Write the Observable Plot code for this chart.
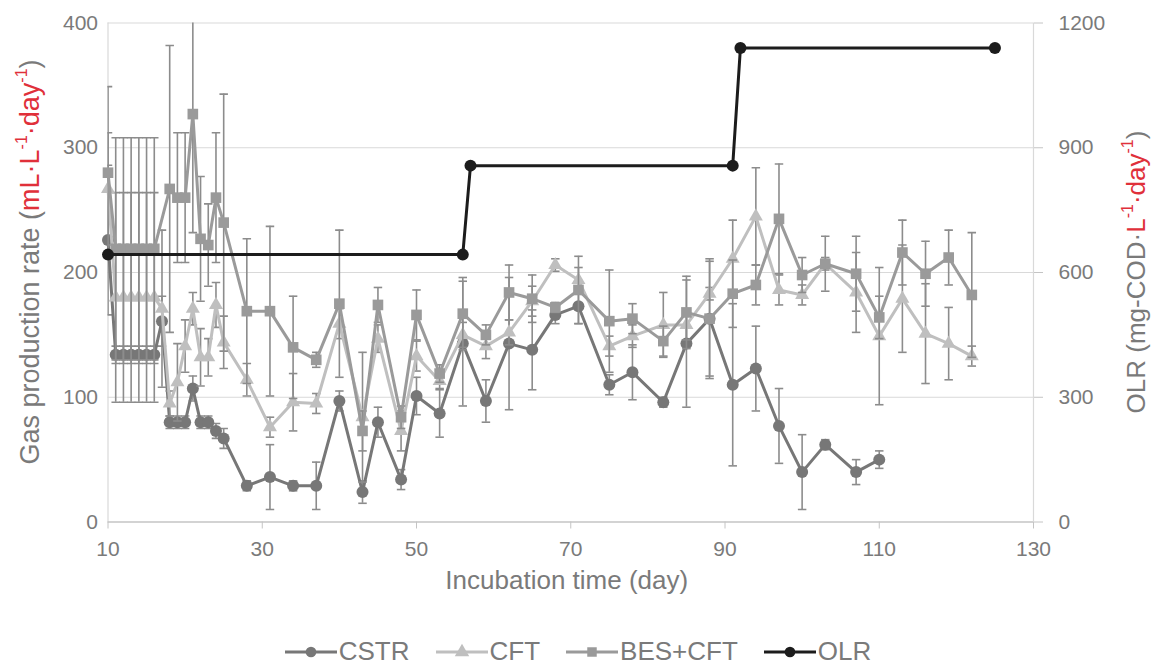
<!DOCTYPE html>
<html><head><meta charset="utf-8">
<script src="https://cdn.jsdelivr.net/npm/d3@7"></script>
<script src="https://cdn.jsdelivr.net/npm/@observablehq/plot@0.6"></script>
<style>
body{margin:0;background:#fff;font-family:"Liberation Sans",Arial,sans-serif;}
#legend{display:flex;justify-content:center;align-items:center;gap:26px;height:35px;font-size:26px;color:#7a7a7a;padding-top:4px;}
.item{display:flex;align-items:center;}
.item svg{margin-right:2px;}
</style></head><body><div id="chart"></div><div id="legend"></div>
<script>
// ---- data ----
const xTicks = [10,30,50,70,90,110,130];
const yTicks = [0,100,200,300,400];
const olrTicks = [0,300,600,900,1200];

const cstrDays = [10,11,12,13,14,15,16,17,18,19,20,21,22,23,24,25,28,31,34,37,40,43,45,48,50,53,56,59,62,65,68,71,75,78,82,85,88,91,94,97,100,103,107,110];
const cstrValues = [226,134,134,134,134,134,134,161,80,80,80,107,80,80,73,67,29,36,29,29,97,24,80,34,101,87,143,97,143,138,166,173,110,120,96,143,163,110,123,77,40,62,40,50];
const cstrErrors = [60,7,7,7,7,7,7,20,5,5,5,10,5,5,6,8,4,26,4,19,8,9,12,8,15,19,50,17,53,32,7,14,8,22,4,51,46,65,34,30,30,4,10,7];

const cftDays = [10,11,12,13,14,15,16,17,18,19,20,21,22,23,24,25,28,31,34,37,40,43,45,48,50,53,56,59,62,65,68,71,75,78,82,85,88,91,94,97,100,103,107,110,113,116,119,122];
const cftValues = [267,180,180,180,180,180,180,171,95,112,141,171,132,132,174,144,114,76,96,95,159,84,147,73,133,113,150,141,152,177,206,194,141,149,158,158,183,211,245,186,182,207,184,149,179,151,143,133];
const cftErrors = [45,84,84,84,84,84,84,63,10,31,21,13,23,15,18,21,13,8,23,8,12,52,11,16,12,6,10,10,10,12,5,10,8,9,26,12,5,31,39,12,8,5,32,55,43,40,29,8];

const besDays = [10,11,12,13,14,15,16,18,19,20,21,22,23,24,25,28,31,34,37,40,43,45,48,50,53,56,59,62,65,68,71,75,78,82,85,88,91,94,97,100,103,107,110,113,116,119,122];
const besValues = [280,219,219,219,219,219,219,267,260,260,327,227,222,260,240,169,169,140,130,175,73,174,84,166,119,167,150,184,179,172,186,161,163,145,168,163,183,190,243,198,207,199,164,216,199,212,182];
const besErrors = [69,89,89,89,89,89,89,115,52,52,95,50,33,52,103,58,68,41,6,59,16,14,9,20,7,29,8,22,19,4,27,41,12,12,29,48,27,16,44,14,22,30,17,26,26,22,50];

const olrDays = [10,56,57,91,92,125];
const olrValues = [643,643,857,857,1140,1140];

// ---- styles ----
const gray = "#7a7a7a", red = "#e0303a", errColor = "#8c8c8c", capHalf = 0.55;
const ratio = olrTicks[olrTicks.length-1] / yTicks[yTicks.length-1];
const seriesList = [
  {name:"CSTR", days:cstrDays, values:cstrValues, errors:cstrErrors, color:"#777777", symbol:"circle", r:6},
  {name:"CFT", days:cftDays, values:cftValues, errors:cftErrors, color:"#bfbfbf", symbol:"triangle", r:5.2},
  {name:"BES+CFT", days:besDays, values:besValues, errors:besErrors, color:"#9a9a9a", symbol:"square", r:6}
];
const olrStyle = {name:"OLR", color:"#1c1c1c", symbol:"circle", r:6};

const marks = [
  Plot.ruleY(yTicks.filter(v => v > 0), {stroke:"#d9d9d9", strokeWidth:1.2}),
  Plot.ruleX(d3.extent(xTicks), {stroke:"#d9d9d9", strokeWidth:1.2}),
  Plot.ruleY([0], {stroke:"#c4c4c4", strokeWidth:1.5})
];
for (const s of seriesList) {
  const data = s.days.map((d,i) => ({day:d, v:s.values[i], e:s.errors[i]}));
  marks.push(Plot.ruleX(data, {x:"day", y1:d => d.v - d.e, y2:d => d.v + d.e, stroke:errColor, strokeWidth:1.6, clip:true}));
  marks.push(Plot.link(data, {x1:d => d.day - capHalf, x2:d => d.day + capHalf, y1:d => d.v + d.e, y2:d => d.v + d.e, stroke:errColor, strokeWidth:1.6, clip:true}));
  marks.push(Plot.link(data, {x1:d => d.day - capHalf, x2:d => d.day + capHalf, y1:d => d.v - d.e, y2:d => d.v - d.e, stroke:errColor, strokeWidth:1.6, clip:true}));
  marks.push(Plot.line(data, {x:"day", y:"v", stroke:s.color, strokeWidth:3}));
  marks.push(Plot.dot(data, {x:"day", y:"v", fill:s.color, stroke:"none", symbol:s.symbol, r:s.r}));
}
const olr = olrDays.map((d,i) => ({day:d, v:olrValues[i]}));
marks.push(Plot.line(olr, {x:"day", y:d => d.v / ratio, stroke:olrStyle.color, strokeWidth:3}));
marks.push(Plot.dot(olr, {x:"day", y:d => d.v / ratio, fill:olrStyle.color, stroke:"none", r:olrStyle.r}));

marks.push(Plot.axisX({ticks:xTicks, tickSize:7, tickPadding:12, label:null, stroke:"#c4c4c4", fill:gray, fontSize:21}));
marks.push(Plot.axisY({anchor:"left", ticks:yTicks, tickSize:0, tickPadding:10, label:null, fill:gray, fontSize:21}));
marks.push(Plot.axisY({anchor:"right", ticks:olrTicks.map(v => v / ratio), tickFormat:d => String(Math.round(d * ratio)), tickSize:9, tickPadding:16, label:null, stroke:"#c4c4c4", fill:gray, fontSize:21}));
marks.push(Plot.text(["Incubation time (day)"], {frameAnchor:"bottom", dy:67, dx:-4, fontSize:26, fill:gray}));

const chart = Plot.plot({
  width:1156, height:630,
  marginLeft:107.5, marginRight:123, marginTop:22.5, marginBottom:108.5,
  x:{domain:[10,130]},
  y:{domain:[0,400]},
  style:{fontFamily:"Liberation Sans, Arial, sans-serif", fontSize:"21px", color:gray, background:"#fff"},
  marks
});
document.getElementById("chart").appendChild(chart);

// rotated axis titles with coloured units
const svg = d3.select(chart);
function addTitle(x, y, parts, size) {
  const t = svg.append("text")
    .attr("transform", `translate(${x},${y}) rotate(-90)`)
    .attr("text-anchor", "middle")
    .attr("dominant-baseline", "central")
    .style("font-size", size + "px")
    .style("font-family", "Liberation Sans, Arial, sans-serif");
  let shifted = false;
  for (const p of parts) {
    const ts = t.append("tspan").text(p.t).attr("fill", p.c);
    if (p.sup) { ts.attr("dy", -9).style("font-size", "16px"); shifted = true; }
    else if (shifted) { ts.attr("dy", 9); shifted = false; }
  }
}
addTitle(30, 262, [
  {t:"Gas production rate (", c:gray},
  {t:"mL·L", c:red}, {t:"-1", c:red, sup:true},
  {t:"·day", c:red}, {t:"-1", c:red, sup:true},
  {t:")", c:gray}
], 27);
addTitle(1136, 272, [
  {t:"OLR (mg-COD·", c:gray},
  {t:"L", c:red}, {t:"-1", c:red, sup:true},
  {t:"·day", c:red}, {t:"-1", c:red, sup:true},
  {t:")", c:gray}
], 26);

// legend
const symbolMap = {circle:d3.symbolCircle, triangle:d3.symbolTriangle, square:d3.symbolSquare};
const legend = d3.select("#legend");
for (const s of [...seriesList, olrStyle]) {
  const item = legend.append("div").attr("class", "item");
  const sv = item.append("svg").attr("width", 52).attr("height", 24);
  sv.append("line").attr("x1", 0).attr("x2", 52).attr("y1", 12).attr("y2", 12).attr("stroke", s.color).attr("stroke-width", 3);
  sv.append("path").attr("d", d3.symbol(symbolMap[s.symbol], 90)()).attr("transform", "translate(26,12)").attr("fill", s.color);
  item.append("span").text(s.name);
}
</script>
</body></html>
